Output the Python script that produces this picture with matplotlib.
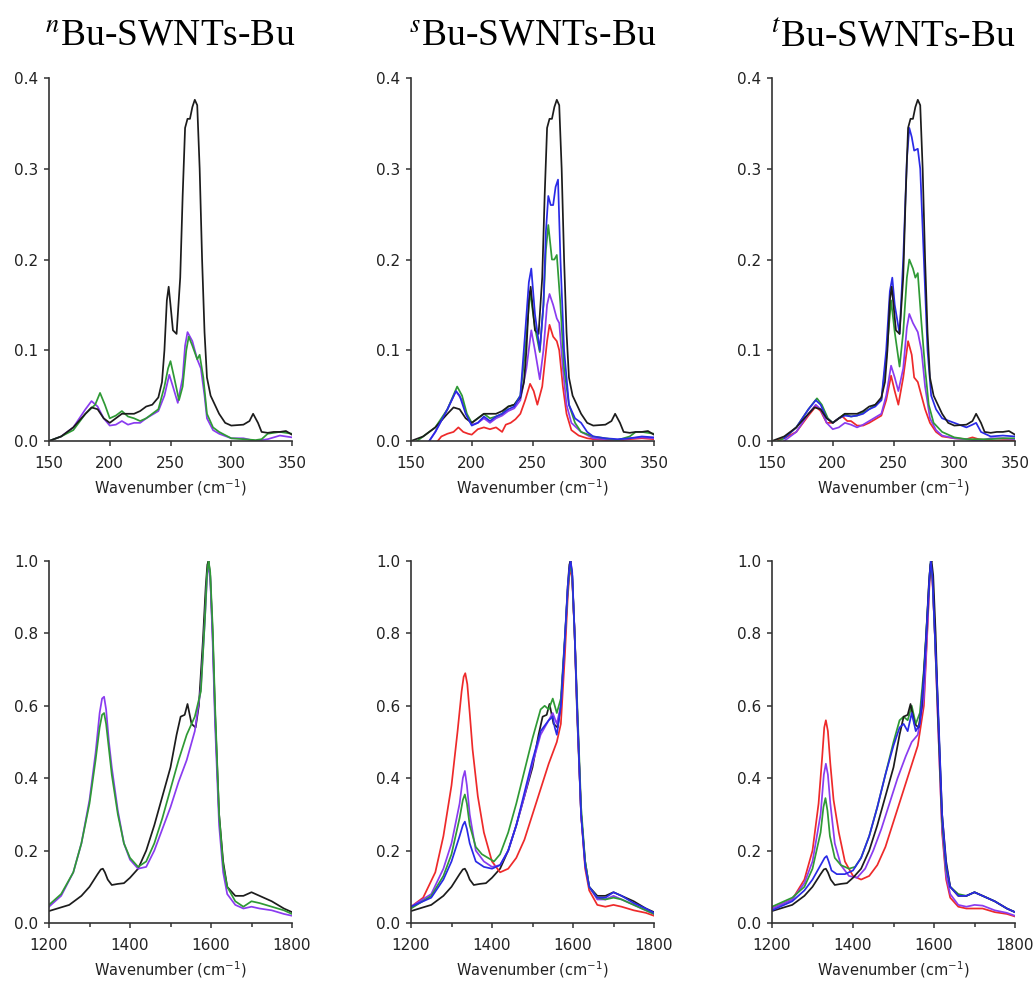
import matplotlib
matplotlib.use("Agg")
import matplotlib.pyplot as plt
from matplotlib.ticker import MultipleLocator

# ---------------- RBM region (top row) ----------------
# pristine reference (black), same in all three panels
rbm_black_x = [150, 160, 170, 180, 185, 190, 195, 200, 205, 210, 220, 225, 230, 235, 240, 243, 245, 247, 248.5,
               250, 252, 255, 258, 260, 262, 264, 266, 268, 270, 272, 274, 276, 278, 280, 283, 290, 295, 300,
               310, 315, 318, 322, 325, 330, 335, 340, 345, 350]
rbm_black_y = [0.0, 0.005, 0.015, 0.03, 0.037, 0.035, 0.025, 0.02, 0.025, 0.03, 0.03, 0.033, 0.038, 0.04, 0.048,
               0.065, 0.1, 0.155, 0.17, 0.15, 0.122, 0.118, 0.18, 0.27, 0.345, 0.355, 0.355, 0.368, 0.376, 0.37,
               0.3, 0.2, 0.12, 0.07, 0.05, 0.03, 0.02, 0.017, 0.018, 0.022, 0.03, 0.02, 0.01, 0.009, 0.01, 0.01,
               0.011, 0.007]

# nBu
n_rbm_green_x = [150, 160, 170, 180, 188, 192, 196, 200, 205, 210, 215, 220, 225, 230, 235, 240, 245, 248, 250,
                 253, 257, 260, 263, 265, 268, 272, 274, 277, 280, 285, 290, 300, 310, 320, 325, 330, 340, 350]
n_rbm_green_y = [0.0, 0.005, 0.012, 0.03, 0.04, 0.053, 0.04, 0.025, 0.028, 0.033, 0.027, 0.025, 0.022, 0.025,
                 0.03, 0.035, 0.06, 0.08, 0.088, 0.07, 0.045, 0.06, 0.1, 0.115, 0.105, 0.09, 0.095, 0.07, 0.03,
                 0.015, 0.01, 0.003, 0.002, 0.001, 0.002, 0.008, 0.01, 0.008]
n_rbm_purple_x = [150, 160, 170, 180, 185, 190, 195, 200, 205, 210, 215, 220, 225, 230, 240, 245, 249, 252, 256,
                  260, 262, 264, 268, 272, 275, 278, 280, 285, 290, 300, 310, 320, 330, 340, 350]
n_rbm_purple_y = [0.0, 0.005, 0.015, 0.035, 0.044, 0.038, 0.025, 0.017, 0.018, 0.022, 0.018, 0.02, 0.02, 0.025,
                  0.033, 0.05, 0.073, 0.06, 0.042, 0.07, 0.105, 0.12, 0.11, 0.09, 0.08, 0.05, 0.025, 0.012, 0.008,
                  0.003, 0.003, 0.0, 0.002, 0.006, 0.004]

# sBu
s_rbm_green_x = [155, 160, 170, 180, 188, 192, 196, 200, 205, 210, 215, 220, 225, 230, 235, 240, 244, 248, 252,
                 256, 259, 261, 263, 266, 268, 270, 273, 276, 280, 285, 290, 300, 310, 320, 330, 335, 340, 350]
s_rbm_green_y = [0.0, 0.005, 0.015, 0.035, 0.06, 0.05, 0.03, 0.02, 0.025, 0.03, 0.025, 0.027, 0.03, 0.038, 0.04,
                 0.05, 0.1, 0.165, 0.125, 0.098, 0.15, 0.21, 0.238, 0.2, 0.2, 0.205, 0.15, 0.08, 0.04, 0.02, 0.01,
                 0.005, 0.003, 0.001, 0.005, 0.01, 0.01, 0.008]
s_rbm_purple_x = [165, 170, 180, 187, 192, 196, 200, 205, 210, 215, 220, 225, 230, 235, 240, 245, 249, 252, 256,
                  259, 262, 264, 267, 270, 272, 275, 278, 282, 290, 300, 310, 320, 330, 340, 350]
s_rbm_purple_y = [0.0, 0.01, 0.035, 0.055, 0.045, 0.028, 0.018, 0.02, 0.025, 0.02, 0.025, 0.028, 0.033, 0.036,
                  0.045, 0.08, 0.122, 0.1, 0.068, 0.1, 0.15, 0.162, 0.15, 0.135, 0.13, 0.08, 0.04, 0.02, 0.01,
                  0.003, 0.002, 0.001, 0.003, 0.004, 0.003]
s_rbm_blue_x = [165, 170, 180, 187, 190, 195, 200, 205, 210, 215, 220, 225, 230, 235, 240, 244, 247, 249, 252, 256,
                259, 261, 263, 265, 267, 269, 271, 273, 276, 280, 285, 290, 295, 300, 310, 320, 330, 340, 350]
s_rbm_blue_y = [0.0, 0.01, 0.035, 0.055, 0.05, 0.03, 0.017, 0.02, 0.027, 0.022, 0.027, 0.03, 0.035, 0.038, 0.05,
                0.12, 0.175, 0.19, 0.14, 0.1, 0.15, 0.23, 0.27, 0.26, 0.26, 0.28, 0.288, 0.2, 0.1, 0.04, 0.025,
                0.02, 0.01, 0.005, 0.003, 0.002, 0.003, 0.005, 0.004]
s_rbm_red_x = [172, 175, 180, 185, 189, 193, 197, 200, 205, 210, 215, 220, 225, 228, 232, 236, 240, 244, 248, 251,
               254, 258, 262, 264, 267, 270, 272, 275, 278, 282, 288, 295, 300, 310, 320, 330, 340, 350]
s_rbm_red_y = [0.0, 0.005, 0.008, 0.01, 0.015, 0.01, 0.008, 0.007, 0.013, 0.015, 0.013, 0.015, 0.01, 0.018, 0.02,
               0.024, 0.03, 0.045, 0.063, 0.055, 0.04, 0.06, 0.11, 0.128, 0.115, 0.11, 0.1, 0.06, 0.03, 0.012,
               0.006, 0.003, 0.002, 0.001, 0.0, 0.002, 0.003, 0.002]

# tBu
t_rbm_green_x = [155, 160, 170, 180, 187, 191, 196, 200, 205, 210, 215, 220, 230, 240, 244, 248, 251, 255, 258,
                 261, 263, 266, 268, 270, 273, 276, 279, 283, 290, 300, 310, 320, 330, 340, 350]
t_rbm_green_y = [0.0, 0.003, 0.015, 0.035, 0.047, 0.04, 0.025, 0.02, 0.025, 0.03, 0.027, 0.028, 0.035, 0.045,
                 0.09, 0.155, 0.12, 0.082, 0.12, 0.18, 0.2, 0.19, 0.18, 0.185, 0.13, 0.08, 0.04, 0.02, 0.01,
                 0.004, 0.002, 0.002, 0.002, 0.003, 0.003]
t_rbm_purple_x = [160, 170, 180, 186, 190, 195, 200, 205, 210, 215, 220, 225, 230, 240, 244, 248, 251, 254, 258,
                  261, 263, 266, 270, 273, 276, 280, 285, 290, 300, 310, 320, 330, 340, 350]
t_rbm_purple_y = [0.0, 0.01, 0.03, 0.04, 0.035, 0.02, 0.013, 0.015, 0.02, 0.018, 0.015, 0.018, 0.022, 0.03, 0.05,
                  0.083, 0.07, 0.055, 0.08, 0.125, 0.14, 0.13, 0.12, 0.1, 0.06, 0.025, 0.012, 0.006, 0.003, 0.002,
                  0.0, 0.003, 0.003, 0.002]
t_rbm_blue_x = [160, 170, 180, 186, 190, 195, 200, 205, 210, 215, 220, 225, 230, 235, 240, 244, 247, 249, 251, 255,
                258, 261, 263, 265, 267, 270, 272, 275, 278, 281, 285, 290, 300, 310, 315, 318, 322, 330, 340, 350]
t_rbm_blue_y = [0.003, 0.015, 0.035, 0.045, 0.04, 0.025, 0.02, 0.025, 0.028, 0.027, 0.028, 0.03, 0.035, 0.038,
                0.045, 0.1, 0.165, 0.18, 0.15, 0.118, 0.2, 0.31, 0.345, 0.335, 0.32, 0.322, 0.3, 0.2, 0.1, 0.05,
                0.035, 0.025, 0.02, 0.015, 0.018, 0.02, 0.01, 0.005, 0.006, 0.005]
t_rbm_red_x = [155, 160, 170, 180, 186, 190, 195, 200, 205, 208, 212, 215, 220, 225, 230, 240, 244, 248, 251, 254,
               258, 262, 265, 267, 270, 273, 276, 280, 285, 290, 300, 310, 315, 320, 330, 340, 350]
t_rbm_red_y = [0.002, 0.003, 0.01, 0.028, 0.038, 0.033, 0.02, 0.02, 0.025, 0.027, 0.022, 0.022, 0.017, 0.017,
               0.02, 0.028, 0.045, 0.072, 0.055, 0.04, 0.07, 0.11, 0.095, 0.07, 0.065, 0.05, 0.035, 0.02, 0.01,
               0.005, 0.003, 0.002, 0.004, 0.002, 0.0, 0.001, 0.001]

# ---------------- D / G band region (bottom row) ----------------
dg_black_x = [1200, 1250, 1280, 1300, 1320, 1328, 1333, 1338, 1345, 1355, 1370, 1385, 1400, 1420, 1440, 1460,
              1480, 1500, 1515, 1525, 1535, 1542, 1552, 1562, 1570, 1580, 1587, 1591, 1594, 1598, 1604, 1610,
              1620, 1630, 1640, 1660, 1680, 1700, 1720, 1750, 1780, 1800]
dg_black_y = [0.033, 0.05, 0.075, 0.1, 0.135, 0.148, 0.15, 0.14, 0.12, 0.105, 0.108, 0.11, 0.125, 0.15, 0.2,
              0.27, 0.35, 0.43, 0.52, 0.57, 0.575, 0.605, 0.55, 0.54, 0.6, 0.78, 0.93, 0.99, 1.0, 0.96, 0.8,
              0.58, 0.3, 0.17, 0.1, 0.075, 0.075, 0.085, 0.075, 0.06, 0.04, 0.03]

n_dg_green_x = [1200, 1230, 1260, 1280, 1300, 1315, 1325, 1331, 1336, 1341, 1348, 1355, 1370, 1385, 1400, 1420,
                1440, 1460, 1480, 1500, 1520, 1540, 1560, 1575, 1585, 1590, 1594, 1598, 1604, 1610, 1620, 1630,
                1640, 1660, 1680, 1700, 1720, 1750, 1780, 1800]
n_dg_green_y = [0.05, 0.08, 0.14, 0.22, 0.33, 0.45, 0.54, 0.575, 0.58, 0.55, 0.48, 0.41, 0.3, 0.22, 0.18, 0.155,
                0.17, 0.22, 0.29, 0.37, 0.45, 0.52, 0.57, 0.64, 0.84, 0.96, 1.0, 0.97, 0.82, 0.6, 0.3, 0.16, 0.1,
                0.06, 0.045, 0.06, 0.055, 0.045, 0.035, 0.025]
n_dg_purple_x = n_dg_green_x
n_dg_purple_y = [0.045, 0.075, 0.14, 0.22, 0.34, 0.47, 0.58, 0.62, 0.625, 0.59, 0.5, 0.43, 0.31, 0.22, 0.175,
                 0.15, 0.155, 0.2, 0.26, 0.32, 0.39, 0.45, 0.53, 0.65, 0.84, 0.95, 0.99, 0.96, 0.78, 0.55, 0.27,
                 0.14, 0.08, 0.05, 0.04, 0.045, 0.04, 0.035, 0.025, 0.02]

s_dg_red_x = [1200, 1230, 1260, 1280, 1300, 1315, 1325, 1330, 1334, 1339, 1345, 1352, 1365, 1380, 1400, 1420,
              1440, 1460, 1480, 1500, 1520, 1540, 1560, 1570, 1580, 1587, 1591, 1594, 1598, 1604, 1610, 1620,
              1630, 1640, 1660, 1680, 1700, 1720, 1750, 1780, 1800]
s_dg_red_y = [0.045, 0.07, 0.14, 0.24, 0.38, 0.53, 0.64, 0.68, 0.69, 0.66, 0.58, 0.48, 0.35, 0.25, 0.17, 0.14,
              0.15, 0.18, 0.23, 0.3, 0.37, 0.44, 0.5, 0.55, 0.74, 0.9, 0.96, 0.98, 0.95, 0.8, 0.6, 0.3, 0.15,
              0.09, 0.05, 0.045, 0.05, 0.045, 0.035, 0.028, 0.02]
s_dg_purple_x = [1200, 1250, 1280, 1300, 1320, 1328, 1333, 1338, 1345, 1360, 1380, 1400, 1420, 1440, 1460, 1480,
                 1500, 1520, 1540, 1550, 1560, 1570, 1580, 1587, 1591, 1594, 1598, 1604, 1610, 1620, 1630, 1640,
                 1660, 1680, 1700, 1720, 1750, 1780, 1800]
s_dg_purple_y = [0.045, 0.08, 0.15, 0.22, 0.33, 0.4, 0.42, 0.38, 0.3, 0.2, 0.17, 0.155, 0.16, 0.2, 0.27, 0.35,
                 0.44, 0.52, 0.56, 0.58, 0.55, 0.6, 0.78, 0.92, 0.97, 0.99, 0.96, 0.8, 0.6, 0.3, 0.16, 0.1, 0.065,
                 0.065, 0.075, 0.065, 0.05, 0.035, 0.025]
s_dg_green_x = [1200, 1250, 1280, 1300, 1320, 1328, 1333, 1338, 1345, 1360, 1375, 1390, 1405, 1420, 1440, 1460,
                1480, 1500, 1520, 1530, 1540, 1550, 1560, 1570, 1580, 1587, 1591, 1594, 1598, 1604, 1610, 1620,
                1630, 1640, 1660, 1680, 1700, 1720, 1750, 1780, 1800]
s_dg_green_y = [0.04, 0.075, 0.13, 0.19, 0.29, 0.34, 0.355, 0.33, 0.27, 0.21, 0.19, 0.18, 0.17, 0.19, 0.25, 0.33,
                0.42, 0.51, 0.59, 0.6, 0.59, 0.62, 0.58, 0.62, 0.79, 0.92, 0.97, 0.99, 0.96, 0.8, 0.62, 0.32, 0.17,
                0.1, 0.07, 0.065, 0.07, 0.065, 0.05, 0.035, 0.025]
s_dg_blue_x = [1200, 1250, 1280, 1300, 1320, 1328, 1333, 1338, 1345, 1360, 1380, 1400, 1420, 1440, 1460, 1480,
               1500, 1520, 1540, 1550, 1555, 1560, 1570, 1580, 1587, 1591, 1594, 1598, 1604, 1610, 1620, 1630,
               1640, 1660, 1680, 1700, 1720, 1750, 1780, 1800]
s_dg_blue_y = [0.045, 0.07, 0.12, 0.17, 0.24, 0.27, 0.28, 0.26, 0.22, 0.17, 0.155, 0.15, 0.16, 0.2, 0.27, 0.36,
               0.45, 0.53, 0.56, 0.57, 0.54, 0.52, 0.6, 0.79, 0.93, 0.98, 1.0, 0.97, 0.8, 0.6, 0.3, 0.16, 0.1,
               0.07, 0.07, 0.085, 0.075, 0.055, 0.04, 0.028]

t_dg_red_x = [1200, 1250, 1280, 1300, 1315, 1324, 1329, 1333, 1338, 1344, 1352, 1365, 1380, 1400, 1420, 1440,
              1460, 1480, 1500, 1520, 1540, 1560, 1575, 1585, 1589, 1592, 1596, 1602, 1610, 1620, 1630, 1640,
              1660, 1680, 1700, 1720, 1750, 1780, 1800]
t_dg_red_y = [0.04, 0.065, 0.12, 0.2, 0.33, 0.46, 0.54, 0.56, 0.53, 0.44, 0.34, 0.25, 0.17, 0.13, 0.12, 0.13,
              0.16, 0.21, 0.28, 0.35, 0.42, 0.49, 0.6, 0.84, 0.94, 0.98, 0.95, 0.8, 0.55, 0.25, 0.12, 0.07, 0.045,
              0.04, 0.04, 0.04, 0.03, 0.025, 0.018]
t_dg_purple_x = [1200, 1250, 1280, 1300, 1320, 1328, 1333, 1338, 1344, 1355, 1370, 1390, 1410, 1430, 1450, 1470,
                 1490, 1510, 1530, 1545, 1560, 1575, 1585, 1589, 1592, 1596, 1602, 1610, 1620, 1630, 1640, 1660,
                 1680, 1700, 1720, 1750, 1780, 1800]
t_dg_purple_y = [0.04, 0.065, 0.11, 0.17, 0.3, 0.41, 0.44, 0.41, 0.33, 0.22, 0.16, 0.13, 0.125, 0.15, 0.2, 0.26,
                 0.33, 0.4, 0.46, 0.5, 0.52, 0.62, 0.85, 0.95, 0.99, 0.96, 0.8, 0.55, 0.26, 0.13, 0.08, 0.05,
                 0.045, 0.05, 0.048, 0.035, 0.028, 0.02]
t_dg_green_x = [1200, 1250, 1280, 1300, 1320, 1327, 1332, 1337, 1343, 1355, 1370, 1390, 1405, 1420, 1440, 1460,
                1480, 1500, 1515, 1525, 1535, 1545, 1555, 1565, 1575, 1585, 1589, 1592, 1596, 1602, 1610, 1620,
                1630, 1640, 1660, 1680, 1700, 1720, 1750, 1780, 1800]
t_dg_green_y = [0.045, 0.07, 0.1, 0.15, 0.25, 0.32, 0.345, 0.31, 0.24, 0.18, 0.16, 0.15, 0.155, 0.18, 0.24, 0.32,
                0.41, 0.5, 0.56, 0.57, 0.56, 0.6, 0.55, 0.58, 0.7, 0.88, 0.96, 1.0, 0.96, 0.8, 0.58, 0.28, 0.15,
                0.1, 0.08, 0.075, 0.085, 0.075, 0.06, 0.04, 0.03]
t_dg_blue_x = [1200, 1250, 1280, 1300, 1320, 1330, 1335, 1340, 1347, 1360, 1380, 1400, 1420, 1440, 1460, 1480,
               1500, 1515, 1525, 1535, 1545, 1555, 1565, 1575, 1585, 1589, 1592, 1596, 1602, 1610, 1620, 1630,
               1640, 1660, 1680, 1700, 1720, 1750, 1780, 1800]
t_dg_blue_y = [0.035, 0.06, 0.09, 0.12, 0.16, 0.18, 0.185, 0.17, 0.145, 0.135, 0.135, 0.145, 0.18, 0.24, 0.32,
               0.41, 0.49, 0.54, 0.55, 0.53, 0.58, 0.53, 0.55, 0.68, 0.88, 0.96, 1.0, 0.96, 0.8, 0.6, 0.3, 0.16,
               0.1, 0.075, 0.075, 0.085, 0.075, 0.06, 0.04, 0.03]

titles = [r"$^{n}$Bu-SWNTs-Bu", r"$^{s}$Bu-SWNTs-Bu", r"$^{t}$Bu-SWNTs-Bu"]

colors = {"black": "#1c1c1c", "green": "#2f9a35", "purple": "#8a3cf0",
          "blue": "#2a2ae6", "red": "#ee2a2a"}

rbm_panels = [
    [("purple", n_rbm_purple_x, n_rbm_purple_y), ("green", n_rbm_green_x, n_rbm_green_y),
     ("black", rbm_black_x, rbm_black_y)],
    [("red", s_rbm_red_x, s_rbm_red_y), ("purple", s_rbm_purple_x, s_rbm_purple_y),
     ("green", s_rbm_green_x, s_rbm_green_y), ("black", rbm_black_x, rbm_black_y),
     ("blue", s_rbm_blue_x, s_rbm_blue_y)],
    [("red", t_rbm_red_x, t_rbm_red_y), ("purple", t_rbm_purple_x, t_rbm_purple_y),
     ("green", t_rbm_green_x, t_rbm_green_y), ("blue", t_rbm_blue_x, t_rbm_blue_y),
     ("black", rbm_black_x, rbm_black_y)],
]
dg_panels = [
    [("black", dg_black_x, dg_black_y), ("purple", n_dg_purple_x, n_dg_purple_y),
     ("green", n_dg_green_x, n_dg_green_y)],
    [("black", dg_black_x, dg_black_y), ("red", s_dg_red_x, s_dg_red_y),
     ("purple", s_dg_purple_x, s_dg_purple_y), ("green", s_dg_green_x, s_dg_green_y),
     ("blue", s_dg_blue_x, s_dg_blue_y)],
    [("red", t_dg_red_x, t_dg_red_y), ("purple", t_dg_purple_x, t_dg_purple_y),
     ("green", t_dg_green_x, t_dg_green_y), ("black", dg_black_x, dg_black_y),
     ("blue", t_dg_blue_x, t_dg_blue_y)],
]

plt.rcParams["font.family"] = "DejaVu Sans"
fig = plt.figure(figsize=(10.34, 9.82), dpi=100)

W, H = 1034, 982
lefts = [49, 411, 772]
width = 243


def style(ax):
    for s in ["top", "right"]:
        ax.spines[s].set_visible(False)
    for s in ["left", "bottom"]:
        ax.spines[s].set_color("#333333")
        ax.spines[s].set_linewidth(1.2)
    ax.tick_params(direction="out", length=3.5, width=1.1, color="#333333",
                   labelsize=11, labelcolor="#222222")
    ax.tick_params(axis="x", pad=7)
    ax.tick_params(axis="y", pad=4)
    ax.tick_params(which="minor", direction="out", length=3, width=1.1, color="#333333")
    ax.set_xlabel("Wavenumber (cm$^{-1}$)", fontsize=10.5, labelpad=5, color="#222222")


for i in range(3):
    ax = fig.add_axes([lefts[i] / W, 1 - 441 / H, width / W, 363 / H])
    for c, x, y in rbm_panels[i]:
        ax.plot(x, y, color=colors[c], lw=1.25)
    ax.set_xlim(150, 350)
    ax.set_ylim(0, 0.4)
    ax.xaxis.set_major_locator(MultipleLocator(50))
    ax.yaxis.set_major_locator(MultipleLocator(0.1))
    ax.yaxis.set_major_formatter(plt.FormatStrFormatter("%.1f"))
    style(ax)
    fig.text((lefts[i] + width / 2) / W, 1 - 36 / H, titles[i], ha="center", va="center",
             fontsize=27, family="Liberation Serif", math_fontfamily="stix")

    ax2 = fig.add_axes([lefts[i] / W, 1 - 923 / H, width / W, 362 / H])
    for c, x, y in dg_panels[i]:
        ax2.plot(x, y, color=colors[c], lw=1.25)
    ax2.set_xlim(1200, 1800)
    ax2.set_ylim(0, 1.0)
    ax2.xaxis.set_major_locator(MultipleLocator(200))
    ax2.xaxis.set_minor_locator(MultipleLocator(100))
    ax2.yaxis.set_major_locator(MultipleLocator(0.2))
    ax2.yaxis.set_major_formatter(plt.FormatStrFormatter("%.1f"))
    style(ax2)

fig.savefig("out.png", dpi=100)
